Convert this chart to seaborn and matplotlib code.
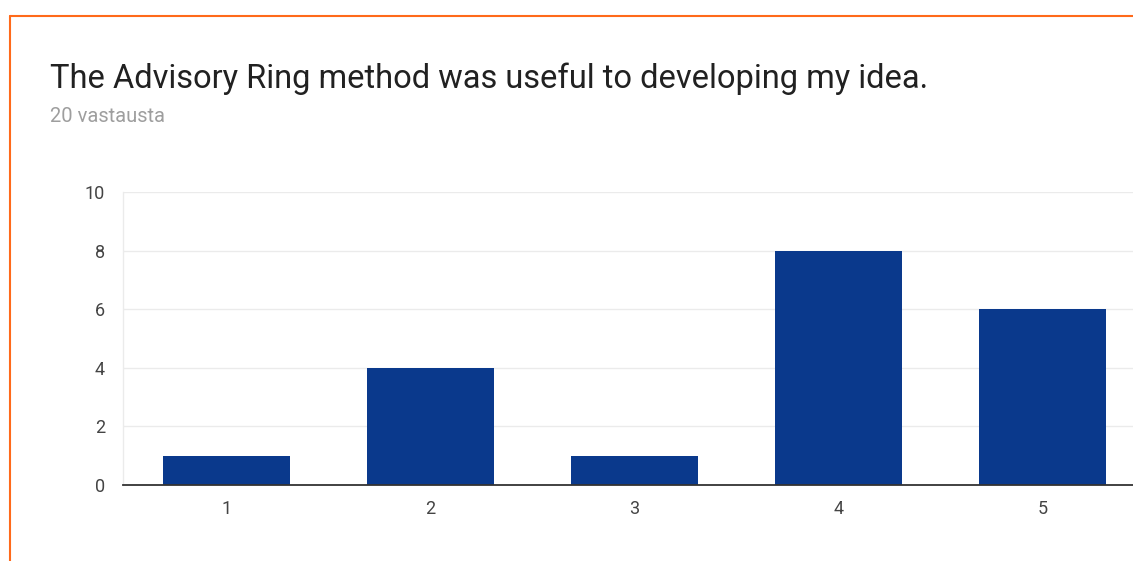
import matplotlib
matplotlib.use("Agg")
import matplotlib.pyplot as plt
import seaborn as sns
import pandas as pd
from matplotlib.lines import Line2D

categories = ["1", "2", "3", "4", "5"]
counts = [1, 4, 1, 8, 6]
yticks = [0, 2, 4, 6, 8, 10]
title = "The Advisory Ring method was useful to developing my idea."
subtitle = "20 vastausta"

sns.set_theme(style="white")
plt.rcParams['font.family'] = ['Roboto', 'DejaVu Sans']

W, H = 1133, 561
fig = plt.figure(figsize=(W / 100, H / 100), dpi=100)
fig.patch.set_facecolor("white")

ax = fig.add_axes([123 / W, (H - 485) / H, (1146 - 123) / W, (485 - 192) / H])
df = pd.DataFrame({"cat": categories, "n": counts})
sns.barplot(data=df, x="cat", y="n", color="#0a398c", saturation=1, width=0.62,
            ax=ax, edgecolor="#0a398c", linewidth=0)

ax.set_xlim(-0.507, 4.507)
ax.set_ylim(0, 10)
ax.set_yticks(yticks)
ax.set_xlabel("")
ax.set_ylabel("")
ax.grid(axis="y", color="#ebebeb", linewidth=1)
ax.set_axisbelow(True)
for s in ["top", "right"]:
    ax.spines[s].set_visible(False)
ax.spines["left"].set_color("#ebebeb")
ax.spines["left"].set_linewidth(1)
ax.spines["bottom"].set_color("#333333")
ax.spines["bottom"].set_linewidth(1.3)
ax.tick_params(axis="y", length=0, pad=13, labelsize=13, labelcolor="#444444")
ax.tick_params(axis="x", length=0, pad=11, labelsize=13, labelcolor="#444444")

fig.text(50 / W, 1 - 79 / H, title, fontsize=23.5, color="#212121", va="center", ha="left")
fig.text(50 / W, 1 - 116 / H, subtitle, fontsize=14.5, color="#9e9e9e", va="center", ha="left")

orange = "#ff6a1a"
fig.add_artist(Line2D([9.5 / W, 1.0], [1 - 15.5 / H, 1 - 15.5 / H], color=orange, linewidth=1.5,
                      transform=fig.transFigure))
fig.add_artist(Line2D([9.5 / W, 9.5 / W], [1 - 15.5 / H, 0], color=orange, linewidth=1.5,
                      transform=fig.transFigure))

fig.savefig("out.png", dpi=100, facecolor="white")
